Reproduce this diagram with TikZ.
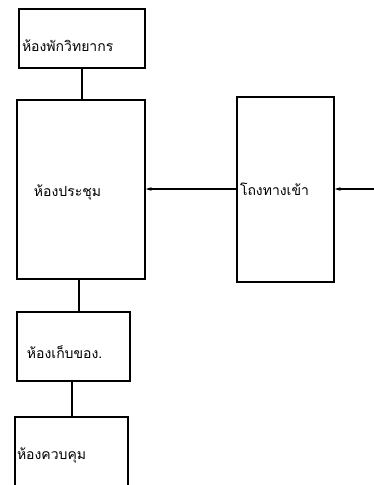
\documentclass[tikz,border=0pt]{standalone}
\usepackage{fontspec}
\newfontfamily\thaifont[Script=Thai]{Loma}
\usetikzlibrary{arrows.meta, positioning, calc}
\tikzset{
  room/.style={draw, line width=1.3pt, align=left, font=\thaifont\fontsize{14}{16}\selectfont, inner ysep=0pt},
  link/.style={line width=1.3pt},
  arr/.style={-{Stealth[length=6pt, width=3.5pt]}, line width=1.3pt},
}
\newcommand{\roomtext}[2]{\raisebox{#1}[0pt][0pt]{#2}}
\begin{document}
\begin{tikzpicture}[x=1pt, y=-1pt]
    \useasboundingbox (0,0) rectangle (374,485);
    \node[room, minimum width=126pt, minimum height=59pt, text width=120pt, inner xsep=3pt] (lounge) at (82,38.5) {\roomtext{-13pt}{ห้องพักวิทยากร}};
    \node[room, minimum width=128pt, minimum height=179pt, text width=94pt, inner xsep=17pt] (meeting) at (81,189.5) {\roomtext{-7pt}{ห้องประชุม}};
    \node[room, minimum width=97pt, minimum height=185pt, text width=91pt, inner xsep=3pt] (hall) at (285.5,189.5) {\roomtext{-6pt}{โถงทางเข้า}};
    \node[room, minimum width=113pt, minimum height=69pt, text width=93pt, inner xsep=10pt] (store) at (73.5,346.5) {\roomtext{-12pt}{ห้องเก็บของ.}};
    \node[room, minimum width=113pt, minimum height=86pt, text width=109pt, inner xsep=2pt] (control) at (71.5,460) {\roomtext{1pt}{ห้องควบคุม}};
    \coordinate (entry) at (374,189);
    \draw[link] (lounge.south) -- (meeting.north -| lounge.south);
    \draw[link] (meeting.south -| 79,0) -- (store.north -| 79,0);
    \draw[link] (store.south -| 72,0) -- (control.north -| 72,0);
    \draw[arr] (hall.west |- 0,189) -- (meeting.east |- 0,189);
    \draw[arr] (entry) -- (hall.east |- entry);
  \end{tikzpicture}
\end{document}
